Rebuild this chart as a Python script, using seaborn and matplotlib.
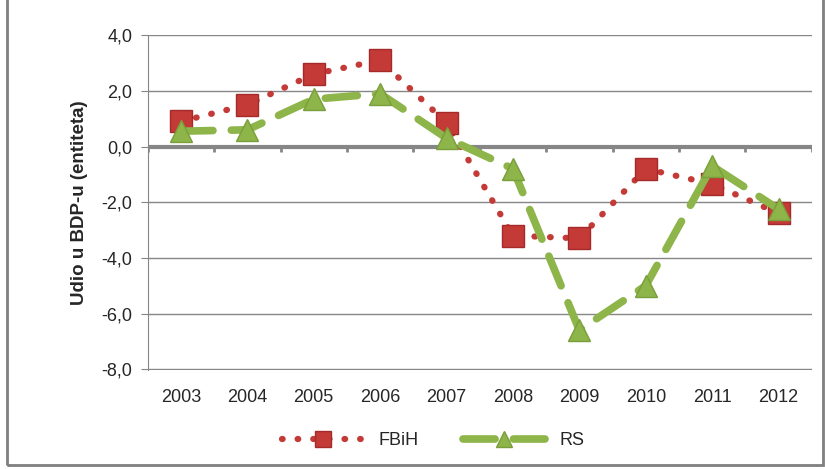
import matplotlib
matplotlib.use("Agg")
import matplotlib.pyplot as plt
import matplotlib.patches as mpatches
import seaborn as sns
import pandas as pd

# values
years = ["2003", "2004", "2005", "2006", "2007", "2008", "2009", "2010", "2011", "2012"]
fbih = [0.9, 1.5, 2.6, 3.1, 0.85, -3.2, -3.3, -0.8, -1.35, -2.4]
rs = [0.55, 0.6, 1.7, 1.9, 0.3, -0.8, -6.6, -5.0, -0.7, -2.25]
yticks = [-8, -6, -4, -2, 0, 2, 4]

red = "#C33A37"
green = "#8DB54A"

sns.set_style("white")
plt.rcParams["font.family"] = ["Liberation Sans", "DejaVu Sans"]

fig = plt.figure(figsize=(8.25, 4.69), dpi=100)
ax = fig.add_axes([0.179, 0.211, 0.805, 0.714])

df = pd.DataFrame({"year": years, "FBiH": fbih, "RS": rs})

sns.lineplot(data=df, x="year", y="FBiH", ax=ax, color=red, linewidth=4.5,
             linestyle=(0, (0.1, 2.4)), marker="s",
             markersize=16, markeredgecolor="#A52A2A", markeredgewidth=1,
             label="FBiH", zorder=3)
sns.lineplot(data=df, x="year", y="RS", ax=ax, color=green, linewidth=5.5,
             linestyle=(0, (4.2, 2.4)), marker="^",
             markersize=16, markeredgecolor="#7A9E3A", markeredgewidth=1,
             label="RS", zorder=4)
for ln in ax.get_lines():
    ln.set_dash_capstyle("round")

ax.set_xlim(-0.5, 9.5)
ax.set_ylim(-8.03, 4)
ax.set_yticks(yticks)
ax.yaxis.set_major_formatter(matplotlib.ticker.FuncFormatter(lambda v, p: ("%.1f" % v).replace(".", ",")))
ax.set_xticks(range(len(years)))
ax.set_xticklabels(years)
ax.tick_params(axis="x", length=0, pad=14, labelsize=13)
ax.tick_params(axis="y", length=5, color="#868686", direction="out", left=True, pad=6, labelsize=13)
ax.grid(axis="y", color="#868686", linewidth=1)
ax.set_axisbelow(True)

for s in ["top", "right", "bottom"]:
    ax.spines[s].set_visible(False)
ax.spines["left"].set_color("#868686")

# category axis at zero
ax.axhline(0, color="#868686", linewidth=3, zorder=2)
for b in range(len(years) + 1):
    ax.vlines(b - 0.5, -0.2, 0, color="#868686", linewidth=2, zorder=2)

ax.set_xlabel("")
ax.set_ylabel("Udio u BDP-u (entiteta)", fontsize=13.5, fontweight="bold", labelpad=10)

ax.legend(loc="center", bbox_to_anchor=(0.43, -0.21), ncol=2, frameon=False,
          fontsize=13, handlelength=4.5, columnspacing=2.5, markerscale=0.75)

fig.patches.append(mpatches.Rectangle((0.008, 0.008), 0.99, 1.2, transform=fig.transFigure,
                                      fill=False, edgecolor="#7F7F7F", linewidth=2))

fig.savefig("out.png", dpi=100)
